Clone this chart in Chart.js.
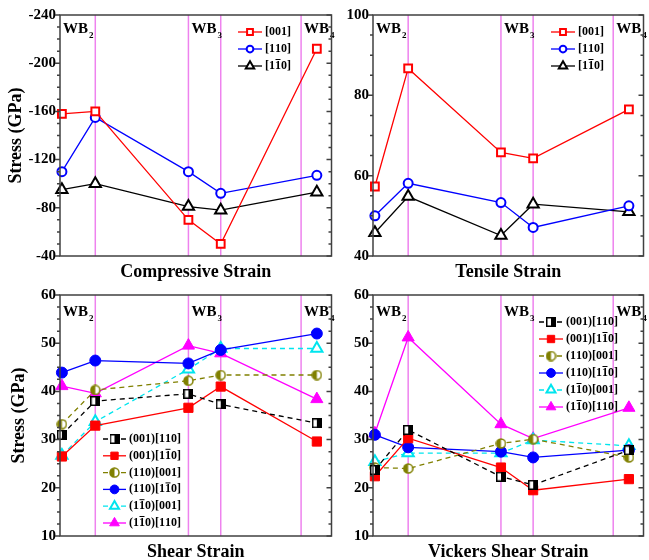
<!DOCTYPE html>
<html>
<head>
<meta charset="utf-8">
<script src="https://cdn.jsdelivr.net/npm/chart.js@4/dist/chart.umd.min.js"></script>
<style>
  html, body { margin: 0; padding: 0; background: #fff; }
  body { position: relative; width: 649px; height: 560px; overflow: hidden; }
  canvas { position: absolute; }
</style>
</head>
<body>
<canvas id="compChart" width="340" height="290" style="left:0;top:0"></canvas>
<canvas id="tensChart" width="322" height="290" style="left:330px;top:0"></canvas>
<canvas id="shearChart" width="340" height="290" style="left:0;top:280px"></canvas>
<canvas id="vickersChart" width="322" height="290" style="left:330px;top:280px"></canvas>
<script>
// positions of the five structures along the strain path, and the WB markers
const strainPos = [0.7, 13, 47.3, 59.2, 94.6]
const wbLinePos = [13, 47.3, 59.2, 88.8]
const wbLabelPos = [0, 47.3, 88.8]
const wbLabelSub = ['2', '3', '4']

// \u0305 = overbar on the previous digit
const dirLabels = ['[001]', '[110]', '[11\u03050]']
const comp001 = [-158, -160, -70, -50, -212]
const comp110 = [-110, -155, -110, -92, -107]
const comp1b10 = [-95, -100, -81, -78, -93]

const tens001 = [57.3, 86.7, 65.8, 64.3, 76.5]
const tens110 = [50.0, 58.1, 53.3, 47.1, 52.5]
const tens1b10 = [45.8, 54.8, 45.1, 52.9, 51.0]

const shearLabels = ['(001)[110]', '(001)[11\u03050]', '(110)[001]', '(110)[11\u03050]', '(11\u03050)[001]', '(11\u03050)[110]']
const shear001_110 = [31.0, 38.0, 39.5, 37.3, 33.4]
const shear001_1b10 = [26.5, 32.9, 36.6, 41.0, 29.6]
const shear110_001 = [33.2, 40.3, 42.2, 43.4, 43.4]
const shear110_1b10 = [43.9, 46.4, 45.8, 48.6, 52.0]
const shear1b10_001 = [26.7, 33.7, 44.6, 48.9, 48.9]
const shear1b10_110 = [41.1, 39.6, 49.5, 47.9, 38.4]

const vick001_110 = [23.7, 32.0, 22.3, 20.6, 27.8]
const vick001_1b10 = [22.4, 30.3, 24.2, 19.5, 21.8]
const vick110_001 = [24.2, 24.0, 29.2, 30.1, 26.3]
const vick110_1b10 = [31.0, 28.4, 27.5, 26.3, 27.8]
const vick1b10_001 = [25.4, 27.2, 27.2, 29.9, 28.7]
const vick1b10_110 = [31.3, 51.2, 33.2, 30.2, 36.6]

const FONT = "'Liberation Serif', serif"
Chart.defaults.font.family = FONT
Chart.defaults.font.weight = 'bold'
Chart.defaults.color = '#000'

function halfSquare(color, size) {
  const c = document.createElement('canvas')
  c.width = c.height = size
  const g = c.getContext('2d')
  g.fillStyle = color
  g.fillRect(0, 0, size, size)
  g.fillStyle = '#fff'
  g.fillRect(1.5, 1.5, size / 2 - 1.5, size - 3)
  return c
}

function halfCircle(color, size) {
  const c = document.createElement('canvas')
  c.width = c.height = size
  const g = c.getContext('2d')
  const r = size / 2 - 1
  g.fillStyle = '#fff'
  g.beginPath(); g.arc(size / 2, size / 2, r, 0, Math.PI * 2); g.fill()
  g.fillStyle = color
  g.beginPath(); g.arc(size / 2, size / 2, r, Math.PI / 2, Math.PI * 1.5); g.fill()
  g.strokeStyle = color
  g.lineWidth = 1.5
  g.beginPath(); g.arc(size / 2, size / 2, r, 0, Math.PI * 2); g.stroke()
  return c
}

function lineStyle(color, pointStyle, radius, open, dashed) {
  return {
    borderColor: color,
    borderWidth: 1.3,
    borderDash: dashed ? [5, 4] : [],
    pointStyle,
    pointRadius: radius,
    pointHoverRadius: radius,
    pointBackgroundColor: open ? '#fff' : color,
    pointBorderColor: color,
    pointBorderWidth: open ? 2 : 1,
    tension: 0,
    fill: false,
    clip: false
  }
}

// draw text, putting a bar over any char followed by \u0305
function drawBarText(ctx, text, x, y) {
  let cx = x
  for (let i = 0; i < text.length; i++) {
    const ch = text[i]
    if (ch === '\u0305') continue
    const w = ctx.measureText(ch).width
    ctx.fillText(ch, cx, y)
    if (text[i + 1] === '\u0305') {
      ctx.fillRect(cx + 0.5, y - 7, w - 1, 1)
    }
    cx += w
  }
}

function drawLegend(chart, cfg) {
  const { ctx, chartArea: a } = chart
  chart.data.datasets.forEach((ds, i) => {
    const x0 = a.left + cfg.dx
    const y = a.top + cfg.dy + i * cfg.gap
    ctx.save()
    ctx.strokeStyle = ds.borderColor
    ctx.lineWidth = ds.borderWidth
    ctx.setLineDash(ds.borderDash)
    ctx.beginPath(); ctx.moveTo(x0, y); ctx.lineTo(x0 + cfg.len, y); ctx.stroke()
    ctx.setLineDash([])
    ctx.fillStyle = ds.pointBackgroundColor
    ctx.strokeStyle = ds.pointBorderColor
    ctx.lineWidth = ds.pointBorderWidth
    Chart.helpers.drawPoint(ctx, {
      pointStyle: ds.pointStyle,
      radius: ds.pointRadius * cfg.scale,
      borderWidth: ds.pointBorderWidth,
      rotation: 0
    }, x0 + cfg.len / 2, y)
    ctx.fillStyle = '#000'
    ctx.font = 'bold 12px ' + FONT
    ctx.textBaseline = 'middle'
    drawBarText(ctx, ds.label, x0 + cfg.len + 3, y)
    ctx.restore()
  })
}

const panelDecor = {
  id: 'panelDecor',
  beforeDatasetsDraw(chart, args, opts) {
    const { ctx, chartArea: a, scales: { x } } = chart
    ctx.save()
    ctx.strokeStyle = '#ee82ee'
    ctx.lineWidth = 1.5
    wbLinePos.forEach(v => {
      const px = x.getPixelForValue(v)
      ctx.beginPath(); ctx.moveTo(px, a.top); ctx.lineTo(px, a.bottom); ctx.stroke()
    })
    ctx.fillStyle = '#000'
    ctx.textBaseline = 'alphabetic'
    wbLabelPos.forEach((v, i) => {
      const px = x.getPixelForValue(v) + 3
      const py = a.top + opts.wbDy
      ctx.font = 'bold 15px ' + FONT
      ctx.fillText('WB', px, py)
      const w = ctx.measureText('WB').width
      ctx.font = 'bold 9px ' + FONT
      ctx.fillText(wbLabelSub[i], px + w + 1, py + 5)
    })
    ctx.restore()
  },
  afterDraw(chart, args, opts) {
    const { ctx, chartArea: a, scales: { y } } = chart
    ctx.save()
    ctx.strokeStyle = '#404040'
    ctx.lineWidth = 1.5
    ctx.strokeRect(a.left, a.top, a.right - a.left, a.bottom - a.top)
    y.ticks.forEach(t => {
      const py = y.getPixelForValue(t.value)
      const len = t.label ? 5 : 3
      ctx.beginPath()
      ctx.moveTo(a.left - len, py); ctx.lineTo(a.left, py)
      ctx.moveTo(a.right - len, py); ctx.lineTo(a.right, py)
      ctx.stroke()
    })
    ctx.restore()
    drawLegend(chart, opts.legend)
  }
}

function makePanel(canvasId, cfg) {
  const datasets = cfg.series.map((values, i) => Object.assign({
    label: cfg.labels[i],
    data: values.map((v, j) => ({ x: strainPos[j], y: v }))
  }, cfg.styles[i]))

  return new Chart(document.getElementById(canvasId), {
    type: 'line',
    data: { datasets },
    options: {
      responsive: false,
      animation: false,
      layout: { padding: { top: 15, right: cfg.padRight, left: 0, bottom: 0 } },
      scales: {
        x: {
          type: 'linear',
          min: 0,
          max: 100,
          grid: { display: false, drawTicks: false },
          border: { display: false },
          ticks: { display: false },
          title: {
            display: true,
            text: cfg.xTitle,
            font: { size: 18, weight: 'bold' },
            padding: { top: 0, bottom: 7 }
          },
          afterFit(scale) { scale.height = 34 }
        },
        y: {
          min: cfg.yMin,
          max: cfg.yMax,
          reverse: !!cfg.reverse,
          grid: { display: false, drawTicks: false },
          border: { display: false },
          ticks: {
            stepSize: cfg.step,
            autoSkip: false,
            padding: 4,
            font: { size: 15, weight: 'bold' },
            callback(value) {
              return Math.abs(value % cfg.major) < 1e-6 ? String(value) : ''
            }
          },
          title: {
            display: !!cfg.yTitle,
            text: cfg.yTitle || '',
            font: { size: 18, weight: 'bold' },
            padding: { top: cfg.yTitlePad || 0, bottom: 0 }
          },
          afterFit(scale) { scale.width = cfg.yAxisW }
        }
      },
      plugins: {
        legend: { display: false },
        tooltip: { enabled: false },
        panelDecor: { legend: cfg.legend, wbDy: cfg.wbDy }
      }
    },
    plugins: [panelDecor]
  })
}

const dirStyles = [
  lineStyle('#ff0000', 'rect', 5.5, true, false),
  lineStyle('#0000ff', 'circle', 4.5, true, false),
  lineStyle('#000000', 'triangle', 6.5, true, false)
]

const shearStyles = [
  lineStyle('#000000', halfSquare('#000000', 10), 5, false, true),
  lineStyle('#ff0000', 'rect', 6.5, false, false),
  lineStyle('#808000', halfCircle('#808000', 11), 5.5, false, true),
  lineStyle('#0000ff', 'circle', 5.5, false, false),
  lineStyle('#00e5ee', 'triangle', 6.5, true, true),
  lineStyle('#ff00ff', 'triangle', 7, false, false)
]

makePanel('compChart', {
  labels: dirLabels,
  series: [comp001, comp110, comp1b10],
  styles: dirStyles,
  yMin: -240, yMax: -40, step: 10, major: 40, reverse: true,
  yTitle: 'Stress (GPa)', yTitlePad: 6,
  xTitle: 'Compressive Strain',
  yAxisW: 60, padRight: 2.5,
  wbDy: 18,
  legend: { dx: 178, dy: 17, gap: 17, len: 24, scale: 0.75 }
})

makePanel('tensChart', {
  labels: dirLabels,
  series: [tens001, tens110, tens1b10],
  styles: dirStyles,
  yMin: 40, yMax: 100, step: 5, major: 20,
  xTitle: 'Tensile Strain',
  yAxisW: 43, padRight: 1.5,
  wbDy: 18,
  legend: { dx: 178, dy: 17, gap: 17, len: 24, scale: 0.75 }
})

makePanel('shearChart', {
  labels: shearLabels,
  series: [shear001_110, shear001_1b10, shear110_001, shear110_1b10, shear1b10_001, shear1b10_110],
  styles: shearStyles,
  yMin: 10, yMax: 60, step: 2.5, major: 10,
  yTitle: 'Stress (GPa)', yTitlePad: 9,
  xTitle: 'Shear Strain',
  yAxisW: 60, padRight: 2.5,
  wbDy: 21,
  legend: { dx: 43, dy: 144, gap: 16.8, len: 23, scale: 0.8 }
})

makePanel('vickersChart', {
  labels: shearLabels,
  series: [vick001_110, vick001_1b10, vick110_001, vick110_1b10, vick1b10_001, vick1b10_110],
  styles: shearStyles,
  yMin: 10, yMax: 60, step: 2.5, major: 10,
  xTitle: 'Vickers Shear Strain',
  yAxisW: 43, padRight: 1.5,
  wbDy: 21,
  legend: { dx: 166, dy: 27, gap: 17, len: 24, scale: 0.8 }
})
</script>
</body>
</html>
